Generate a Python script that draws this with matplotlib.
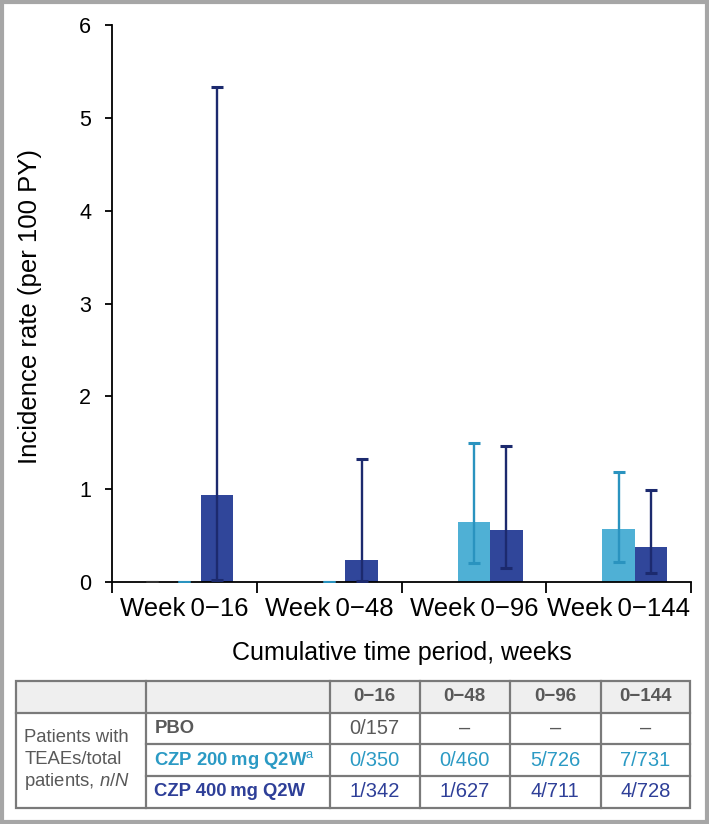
import numpy as np
import matplotlib
matplotlib.use("Agg")
import matplotlib.pyplot as plt
from matplotlib.patches import Rectangle

plt.rcParams['font.family'] = ['Liberation Sans', 'DejaVu Sans']
plt.rcParams['mathtext.fontset'] = 'custom'
plt.rcParams['mathtext.rm'] = 'Liberation Sans'
plt.rcParams['mathtext.it'] = 'Liberation Sans:italic'
plt.rcParams['mathtext.bf'] = 'Liberation Sans:bold'

# data
groups = ["Week\u20090\u221216", "Week\u20090\u221248", "Week\u20090\u221296", "Week\u20090\u2212144"]
pbo_rate = [0.0, np.nan, np.nan, np.nan]
pbo_lo = [0.0, np.nan, np.nan, np.nan]
pbo_hi = [0.0, np.nan, np.nan, np.nan]
czp200_rate = [0.0, 0.0, 0.65, 0.57]
czp200_lo = [0.0, 0.0, 0.20, 0.22]
czp200_hi = [0.0, 0.0, 1.50, 1.18]
czp400_rate = [0.94, 0.24, 0.56, 0.38]
czp400_lo = [0.02, 0.01, 0.15, 0.10]
czp400_hi = [5.33, 1.32, 1.46, 0.99]

col_heads = ["0\u221216", "0\u221248", "0\u221296", "0\u2212144"]
row_names = ["PBO", "CZP 200\u2009mg Q2W$^{\\mathrm{a}}$", "CZP 400\u2009mg Q2W"]
pbo_n = ["0/157", "\u2013", "\u2013", "\u2013"]
czp200_n = ["0/350", "0/460", "5/726", "7/731"]
czp400_n = ["1/342", "1/627", "4/711", "4/728"]

c_pbo, c_pbo_e = "#7f7f7f", "#333333"
c_200, c_200_e = "#4fb0d5", "#2a93bf"
c_400, c_400_e = "#30469a", "#1c2a6e"
gray_txt = "#595959"

fig = plt.figure(figsize=(7.09, 8.24), dpi=100)
ax = fig.add_axes([112/709, 1-582/824, 579/709, 557/824])

x = np.arange(len(groups))
w = 0.225
series = [
    (pbo_rate, pbo_lo, pbo_hi, -w, c_pbo, c_pbo_e),
    (czp200_rate, czp200_lo, czp200_hi, 0, c_200, c_200_e),
    (czp400_rate, czp400_lo, czp400_hi, w, c_400, c_400_e),
]
for rate, lo, hi, off, fc, ec in series:
    rate = np.array(rate); lo = np.array(lo); hi = np.array(hi)
    ax.bar(x + off, rate, width=w, color=fc, zorder=2)
    err = np.vstack([rate - lo, hi - rate])
    ax.errorbar(x + off, rate, yerr=err, fmt="none", ecolor=ec,
                elinewidth=1.7, capsize=4.2, capthick=2.2, zorder=3)

ax.set_xlim(-0.5, 3.5)
ax.set_ylim(0, 6)
ax.set_yticks(range(0, 7))
ax.tick_params(axis="y", labelsize=15.5, length=5, width=1.3, direction="out", pad=10)
ax.set_xticks(np.arange(-0.5, 4, 1))
ax.set_xticklabels([])
ax.set_xticks(x, minor=True)
ax.set_xticklabels(groups, minor=True, fontsize=18.5)
ax.tick_params(axis="x", which="major", length=8, width=1.3, direction="out")
ax.tick_params(axis="x", which="minor", length=0, pad=11)
for s in ["top", "right"]:
    ax.spines[s].set_visible(False)
for s in ["left", "bottom"]:
    ax.spines[s].set_linewidth(1.3)
ax.set_ylabel("Incidence rate (per 100 PY)", fontsize=18.5)
ax.yaxis.set_label_coords(-0.121, 0.4955)
ax.set_xlabel("Cumulative time period, weeks", fontsize=18, labelpad=14)

# table and frame drawn in pixel coordinates
ov = fig.add_axes([0, 0, 1, 1], zorder=5)
ov.set_xlim(0, 709)
ov.set_ylim(824, 0)
ov.axis("off")
ov.patch.set_alpha(0)

ov.add_patch(Rectangle((1.5, 1.5), 705, 820, fill=False, ec="#a6a6a6", lw=3))

xs = [15.5, 145.5, 330, 419.5, 510, 600.5, 690]
ys = [680.5, 712.5, 744, 776, 807.5]
lc = "#7a7a7a"
ov.add_patch(Rectangle((xs[0], ys[0]), xs[-1]-xs[0], ys[1]-ys[0], fc="#efefef", ec="none"))
ov.add_patch(Rectangle((xs[0], ys[0]), xs[-1]-xs[0], ys[-1]-ys[0], fill=False, ec=lc, lw=1.6))
ov.plot([xs[0], xs[-1]], [ys[1], ys[1]], color=lc, lw=1.6)
for yy in ys[2:4]:
    ov.plot([xs[1], xs[-1]], [yy, yy], color=lc, lw=1.6)
for xx in xs[1:-1]:
    ov.plot([xx, xx], [ys[0], ys[-1]], color=lc, lw=1.6)

fs = 13.3
fv = 14.5
for j, h in enumerate(col_heads):
    ov.text((xs[j+2]+xs[j+3])/2, (ys[0]+ys[1])/2, h, ha="center", va="center",
            fontsize=13.5, fontweight="bold", color=gray_txt)
row_cols = [gray_txt, "#2b9ac4", "#2e3f98"]
row_vals = [pbo_n, czp200_n, czp400_n]
for i in range(3):
    yc = (ys[i+1]+ys[i+2])/2
    ov.text(xs[1]+9, yc, row_names[i], ha="left", va="center", fontsize=fs,
            fontweight="bold", color=row_cols[i])
    for j, v in enumerate(row_vals[i]):
        ov.text((xs[j+2]+xs[j+3])/2, yc, v, ha="center", va="center",
                fontsize=fv, color=row_cols[i])
for k, line in enumerate(["Patients with", "TEAEs/total", "patients, $\\it{n/N}$"]):
    ov.text(xs[0]+9, 738 + k*21.5, line, ha="left", va="center", fontsize=fs, color=gray_txt)

fig.savefig("out.png", dpi=100)
